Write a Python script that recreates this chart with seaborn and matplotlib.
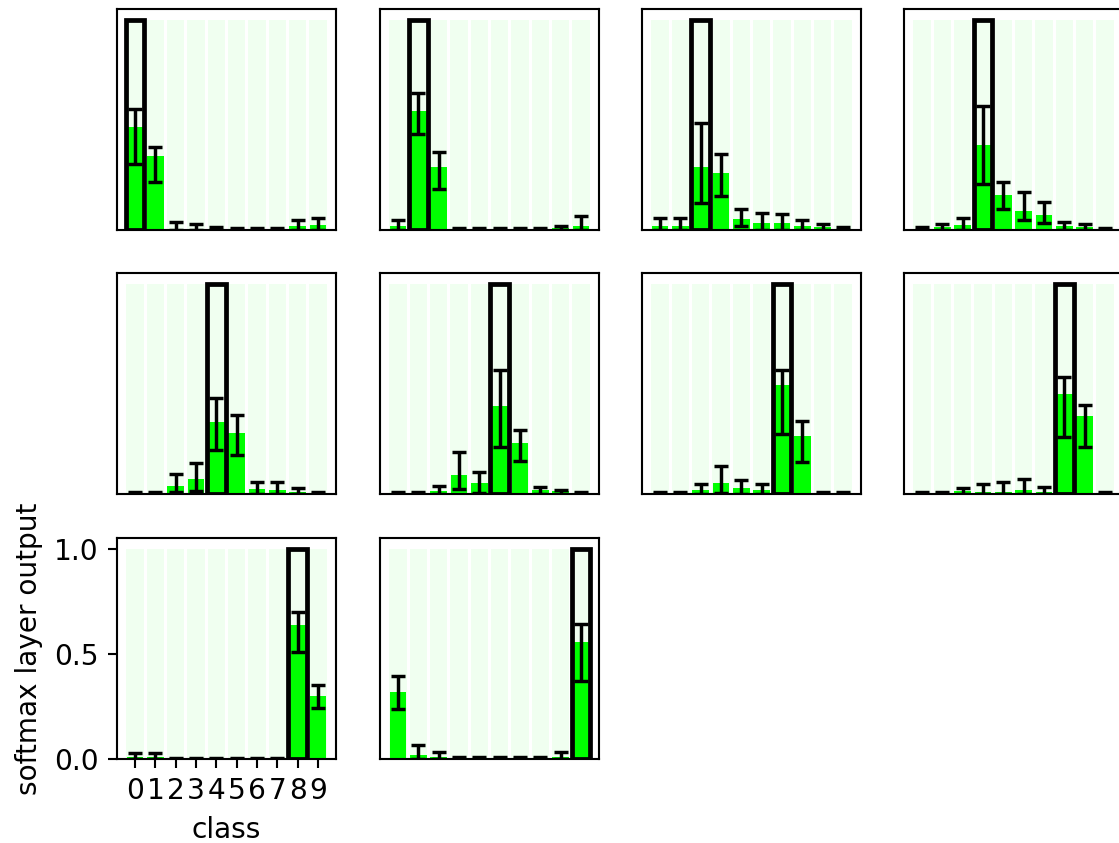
import numpy as np
import matplotlib
matplotlib.use("Agg")
import matplotlib.pyplot as plt
import seaborn as sns

classes = list(range(10))
tick_labels = [str(c) for c in classes]
true_classes = list(range(10))

# mean softmax output per panel (panel = true class)
means = [
    [0.49, 0.35, 0.005, 0.005, 0.005, 0.003, 0.003, 0.003, 0.019, 0.022],
    [0.019, 0.567, 0.30, 0.003, 0.003, 0.003, 0.003, 0.003, 0.010, 0.019],
    [0.020, 0.020, 0.30, 0.27, 0.050, 0.031, 0.031, 0.019, 0.013, 0.005],
    [0.005, 0.013, 0.022, 0.406, 0.165, 0.091, 0.071, 0.019, 0.016, 0.005],
    [0.003, 0.003, 0.040, 0.072, 0.342, 0.291, 0.024, 0.021, 0.011, 0.003],
    [0.003, 0.003, 0.013, 0.088, 0.051, 0.419, 0.244, 0.021, 0.013, 0.003],
    [0.003, 0.003, 0.021, 0.053, 0.030, 0.021, 0.518, 0.274, 0.003, 0.003],
    [0.003, 0.003, 0.013, 0.011, 0.011, 0.019, 0.011, 0.475, 0.371, 0.003],
    [0.011, 0.011, 0.002, 0.002, 0.002, 0.002, 0.002, 0.002, 0.636, 0.300],
    [0.319, 0.017, 0.011, 0.003, 0.003, 0.003, 0.003, 0.003, 0.008, 0.558],
]
lows = [
    [0.315, 0.228, 0.0, 0.0, 0.0, 0.0, 0.0, 0.0, 0.0, 0.0],
    [0.0, 0.457, 0.197, 0.0, 0.0, 0.0, 0.0, 0.0, 0.0, 0.0],
    [0.0, 0.0, 0.126, 0.162, 0.019, 0.0, 0.0, 0.0, 0.0, 0.0],
    [0.0, 0.0, 0.0, 0.22, 0.102, 0.047, 0.031, 0.0, 0.0, 0.0],
    [0.0, 0.0, 0.008, 0.016, 0.207, 0.183, 0.0, 0.0, 0.0, 0.0],
    [0.0, 0.0, 0.0, 0.024, 0.003, 0.223, 0.156, 0.0, 0.0, 0.0],
    [0.0, 0.0, 0.0, 0.003, 0.0, 0.0, 0.287, 0.154, 0.0, 0.0],
    [0.0, 0.0, 0.0, 0.0, 0.0, 0.0, 0.0, 0.271, 0.223, 0.0],
    [0.0, 0.0, 0.0, 0.0, 0.0, 0.0, 0.0, 0.0, 0.51, 0.24],
    [0.237, 0.0, 0.0, 0.0, 0.0, 0.0, 0.0, 0.0, 0.0, 0.371],
]
highs = [
    [0.575, 0.394, 0.040, 0.028, 0.016, 0.008, 0.008, 0.008, 0.047, 0.058],
    [0.047, 0.650, 0.370, 0.008, 0.008, 0.008, 0.008, 0.008, 0.019, 0.066],
    [0.055, 0.055, 0.507, 0.362, 0.102, 0.080, 0.076, 0.047, 0.028, 0.016],
    [0.016, 0.027, 0.055, 0.590, 0.228, 0.180, 0.134, 0.039, 0.028, 0.011],
    [0.008, 0.008, 0.096, 0.146, 0.454, 0.377, 0.056, 0.056, 0.029, 0.008],
    [0.008, 0.008, 0.040, 0.200, 0.104, 0.590, 0.306, 0.035, 0.019, 0.008],
    [0.008, 0.008, 0.048, 0.135, 0.067, 0.048, 0.589, 0.346, 0.008, 0.008],
    [0.008, 0.008, 0.029, 0.048, 0.056, 0.072, 0.035, 0.557, 0.422, 0.008],
    [0.027, 0.027, 0.006, 0.006, 0.006, 0.006, 0.006, 0.006, 0.700, 0.351],
    [0.393, 0.068, 0.031, 0.008, 0.008, 0.008, 0.008, 0.008, 0.031, 0.642],
]
background_level = [1.0] * 10

DPI = 190
plt.rcParams["font.size"] = 10.6
fig = plt.figure(figsize=(1119 / DPI, 843 / DPI), dpi=DPI)

col_left_px = [117, 380, 642, 904]
row_bottom_px = [230, 494, 759]
w_px, h_px = 219, 221

green = "#00ff00"

for p in range(10):
    r, c = divmod(p, 4)
    ax = fig.add_axes([col_left_px[c] / 1119, (843 - row_bottom_px[r]) / 843,
                       w_px / 1119, h_px / 843])
    # light background bars
    sns.barplot(x=classes, y=background_level, color=green, alpha=0.06,
                saturation=1, linewidth=0, errorbar=None, width=0.85, ax=ax)
    # mean bars
    sns.barplot(x=classes, y=means[p], color=green, saturation=1,
                linewidth=0, errorbar=None, width=0.82, ax=ax)
    # outline for the true class
    outline = [1.0 if k == true_classes[p] else 0.0 for k in classes]
    n_before = len(ax.patches)
    sns.barplot(x=classes, y=outline, fill=False, edgecolor="black",
                linewidth=1.8, errorbar=None, width=0.92, ax=ax)
    for patch in ax.patches[n_before:]:
        if patch.get_height() == 0:
            patch.set_visible(False)
    m = np.array(means[p])
    yerr = [m - np.array(lows[p]), np.array(highs[p]) - m]
    ax.errorbar(classes, m, yerr=yerr, fmt="none", ecolor="black",
                elinewidth=1.3, capsize=2.5, capthick=1.3, zorder=5)
    ax.set_xlim(-0.89, 9.89)
    ax.set_ylim(0, 1.05)
    ax.set_xlabel("")
    ax.set_ylabel("")
    if p == 8:
        ax.set_xticks(classes)
        ax.set_xticklabels(tick_labels, fontsize=10.6)
        ax.set_yticks([0.0, 0.5, 1.0])
        ax.set_yticklabels(["0.0", "0.5", "1.0"], fontsize=10.6)
        ax.set_xlabel("class", fontsize=10.6)
        ax.set_ylabel("softmax layer output", fontsize=10.6)
    else:
        ax.set_xticks([])
        ax.set_yticks([])

fig.savefig("out.png", dpi=DPI)
